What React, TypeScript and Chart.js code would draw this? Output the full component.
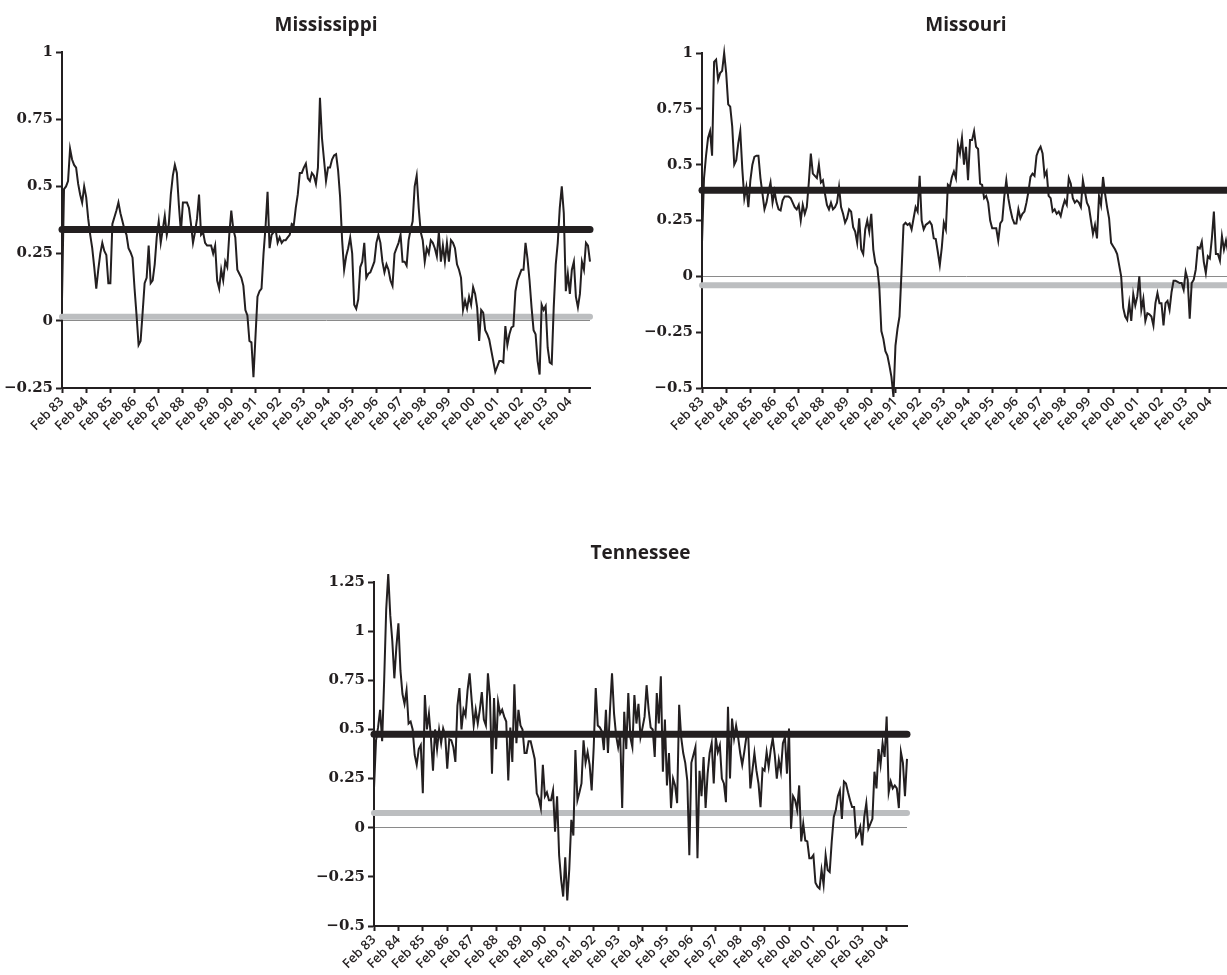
import React, { useEffect, useRef } from "react";
import { Chart, registerables } from "chart.js";

Chart.register(...registerables);

// ---------- DATA ----------
const yearLabels = [
  "Feb 83", "Feb 84", "Feb 85", "Feb 86", "Feb 87", "Feb 88", "Feb 89", "Feb 90",
  "Feb 91", "Feb 92", "Feb 93", "Feb 94", "Feb 95", "Feb 96", "Feb 97", "Feb 98",
  "Feb 99", "Feb 00", "Feb 01", "Feb 02", "Feb 03", "Feb 04",
];
// month index (0 = Feb 83) of each labelled tick
const yearTickIndex = [0, 12, 24, 36, 48, 60, 72, 84, 96, 108, 120, 132, 144, 156, 168, 180, 192, 204, 216, 228, 240, 252];

const mississippi = [
  0.08, 0.49, 0.50, 0.52, 0.64, 0.60, 0.58, 0.57, 0.51, 0.47,
  0.44, 0.50, 0.46, 0.38, 0.32, 0.27, 0.20, 0.12, 0.19, 0.25,
  0.29, 0.26, 0.245, 0.14, 0.14, 0.36, 0.385, 0.41, 0.44, 0.40,
  0.37, 0.34, 0.32, 0.27, 0.255, 0.235, 0.12, 0.02, -0.09, -0.075,
  0.03, 0.14, 0.16, 0.28, 0.14, 0.15, 0.21, 0.31, 0.37, 0.29,
  0.34, 0.39, 0.32, 0.36, 0.47, 0.54, 0.58, 0.55, 0.43, 0.33,
  0.44, 0.44, 0.44, 0.42, 0.36, 0.29, 0.33, 0.38, 0.47, 0.32,
  0.33, 0.29, 0.28, 0.28, 0.28, 0.25, 0.28, 0.15, 0.12, 0.19,
  0.15, 0.22, 0.20, 0.32, 0.41, 0.34, 0.31, 0.19, 0.175, 0.16,
  0.13, 0.04, 0.02, -0.075, -0.08, -0.21, -0.06, 0.09, 0.11, 0.12,
  0.25, 0.35, 0.48, 0.27, 0.32, 0.33, 0.34, 0.29, 0.31, 0.29,
  0.30, 0.30, 0.31, 0.32, 0.36, 0.355, 0.42, 0.47, 0.55, 0.55,
  0.57, 0.585, 0.53, 0.52, 0.55, 0.54, 0.51, 0.57, 0.83, 0.68,
  0.60, 0.52, 0.57, 0.57, 0.60, 0.615, 0.62, 0.56, 0.46, 0.30,
  0.19, 0.24, 0.27, 0.31, 0.25, 0.06, 0.045, 0.08, 0.20, 0.22,
  0.29, 0.16, 0.175, 0.18, 0.20, 0.22, 0.29, 0.32, 0.29, 0.22,
  0.18, 0.21, 0.19, 0.15, 0.13, 0.25, 0.27, 0.29, 0.32, 0.22,
  0.22, 0.205, 0.30, 0.34, 0.37, 0.50, 0.54, 0.42, 0.33, 0.30,
  0.22, 0.27, 0.25, 0.30, 0.29, 0.27, 0.24, 0.33, 0.22, 0.28,
  0.22, 0.29, 0.22, 0.30, 0.29, 0.27, 0.21, 0.19, 0.16, 0.04,
  0.075, 0.045, 0.09, 0.06, 0.125, 0.10, 0.05, -0.075, 0.04, 0.03,
  -0.035, -0.05, -0.07, -0.11, -0.15, -0.19, -0.17, -0.15, -0.15, -0.155,
  -0.02, -0.09, -0.05, -0.025, -0.02, 0.11, 0.15, 0.17, 0.19, 0.19,
  0.29, 0.23, 0.15, 0.05, -0.035, -0.05, -0.15, -0.20, 0.06, 0.04,
  0.055, -0.10, -0.155, -0.16, 0.05, 0.21, 0.29, 0.42, 0.50, 0.40,
  0.11, 0.175, 0.10, 0.19, 0.22, 0.09, 0.05, 0.10, 0.22, 0.19,
  0.29, 0.28, 0.22,
];

const missouri = [
  0.15, 0.44, 0.54, 0.62, 0.65, 0.54, 0.96, 0.97, 0.88, 0.91,
  0.92, 1.0, 0.91, 0.77, 0.76, 0.67, 0.50, 0.52, 0.595, 0.65,
  0.48, 0.35, 0.40, 0.31, 0.43, 0.50, 0.535, 0.54, 0.54, 0.44,
  0.37, 0.30, 0.33, 0.38, 0.42, 0.33, 0.38, 0.33, 0.30, 0.295,
  0.34, 0.357, 0.357, 0.357, 0.35, 0.33, 0.31, 0.30, 0.32, 0.25,
  0.32, 0.28, 0.31, 0.42, 0.55, 0.46, 0.45, 0.44, 0.50, 0.42,
  0.43, 0.37, 0.32, 0.30, 0.33, 0.30, 0.31, 0.33, 0.40, 0.31,
  0.28, 0.24, 0.26, 0.30, 0.29, 0.22, 0.20, 0.15, 0.26, 0.12,
  0.10, 0.21, 0.25, 0.20, 0.28, 0.12, 0.06, 0.04, -0.05, -0.245,
  -0.28, -0.335, -0.355, -0.40, -0.45, -0.54, -0.31, -0.235, -0.18, 0.02,
  0.23, 0.24, 0.23, 0.237, 0.21, 0.26, 0.31, 0.29, 0.45, 0.25,
  0.21, 0.23, 0.237, 0.245, 0.23, 0.17, 0.167, 0.11, 0.05, 0.13,
  0.24, 0.21, 0.41, 0.40, 0.445, 0.47, 0.44, 0.59, 0.55, 0.62,
  0.50, 0.58, 0.43, 0.61, 0.61, 0.65, 0.58, 0.57, 0.415, 0.41,
  0.35, 0.36, 0.33, 0.25, 0.215, 0.215, 0.215, 0.16, 0.237, 0.25,
  0.357, 0.43, 0.35, 0.30, 0.26, 0.237, 0.237, 0.30, 0.26, 0.28,
  0.29, 0.33, 0.38, 0.445, 0.46, 0.45, 0.54, 0.565, 0.58, 0.55,
  0.45, 0.47, 0.36, 0.35, 0.29, 0.30, 0.28, 0.29, 0.27, 0.31,
  0.34, 0.32, 0.44, 0.415, 0.35, 0.33, 0.34, 0.33, 0.31, 0.43,
  0.38, 0.33, 0.31, 0.25, 0.19, 0.23, 0.17, 0.36, 0.32, 0.445,
  0.37, 0.31, 0.26, 0.15, 0.135, 0.12, 0.10, 0.05, 0.00, -0.14,
  -0.18, -0.195, -0.12, -0.20, -0.08, -0.13, -0.09, 0.0, -0.15, -0.10,
  -0.20, -0.165, -0.17, -0.18, -0.22, -0.12, -0.075, -0.12, -0.12, -0.22,
  -0.12, -0.11, -0.15, -0.07, -0.02, -0.02, -0.025, -0.03, -0.03, -0.06,
  0.02, -0.015, -0.19, -0.03, -0.015, 0.03, 0.13, 0.125, 0.155, 0.065,
  0.015, 0.09, 0.08, 0.17, 0.29, 0.10, 0.10, 0.07, 0.18, 0.12,
  0.16, 0.11, 0.15,
];

const tennessee = [
  0.2, 0.445, 0.51, 0.60, 0.44, 0.75, 1.11, 1.29, 1.08, 0.95,
  0.76, 0.92, 1.04, 0.80, 0.68, 0.63, 0.70, 0.53, 0.54, 0.50,
  0.37, 0.32, 0.40, 0.42, 0.175, 0.675, 0.50, 0.58, 0.455, 0.29,
  0.50, 0.40, 0.50, 0.43, 0.505, 0.47, 0.30, 0.45, 0.445, 0.41,
  0.335, 0.62, 0.71, 0.50, 0.60, 0.57, 0.70, 0.785, 0.65, 0.52,
  0.60, 0.53, 0.60, 0.69, 0.55, 0.52, 0.785, 0.665, 0.275, 0.66,
  0.40, 0.64, 0.58, 0.60, 0.565, 0.54, 0.24, 0.51, 0.335, 0.73,
  0.43, 0.60, 0.52, 0.50, 0.38, 0.38, 0.44, 0.44, 0.395, 0.35,
  0.175, 0.15, 0.10, 0.32, 0.16, 0.18, 0.14, 0.14, 0.19, -0.02,
  0.16, -0.14, -0.265, -0.35, -0.15, -0.37, -0.21, 0.04, -0.04, 0.395,
  0.14, 0.18, 0.225, 0.445, 0.33, 0.385, 0.32, 0.19, 0.41, 0.71,
  0.52, 0.51, 0.49, 0.395, 0.60, 0.38, 0.60, 0.785, 0.58, 0.47,
  0.41, 0.48, 0.10, 0.59, 0.40, 0.685, 0.46, 0.41, 0.675, 0.53,
  0.63, 0.46,
  0.51, 0.565, 0.725, 0.60, 0.51, 0.50, 0.36, 0.685, 0.53, 0.77,
  0.285, 0.55, 0.215, 0.38, 0.10, 0.25, 0.215, 0.125, 0.625, 0.46,
  0.38, 0.33, 0.24, -0.14, 0.33, 0.37, 0.41, -0.155, 0.29, 0.16,
  0.36, 0.10, 0.275, 0.38, 0.43, 0.225, 0.46, 0.385, 0.42, 0.25,
  0.225, 0.13, 0.615, 0.25, 0.555, 0.455, 0.52, 0.46, 0.38, 0.32,
  0.385, 0.46, 0.46, 0.20, 0.29, 0.38, 0.29, 0.225, 0.105, 0.30,
  0.29, 0.385, 0.31, 0.395, 0.455, 0.37, 0.25, 0.345, 0.285, 0.43,
  0.46, 0.275, 0.505, -0.005, 0.16, 0.14, 0.09, 0.215, -0.07, 0.02,
  -0.065, -0.07, -0.155, -0.155, -0.14, -0.28, -0.30, -0.31, -0.215, -0.29,
  -0.14, -0.215, -0.225, -0.07, 0.055, 0.09, 0.16, 0.19, 0.045, 0.235,
  0.225, 0.18, 0.14, 0.105, 0.105, -0.045, -0.03, 0.005, -0.09, 0.055,
  0.125, -0.005, 0.02, 0.045, 0.285, 0.20, 0.40, 0.32, 0.43, 0.36,
  0.565, 0.18, 0.235, 0.20, 0.215, 0.20, 0.10, 0.385, 0.33, 0.16,
  0.35,
];

// reference levels (thick black and thick gray lines)
const mississippiBlack = 0.34;
const mississippiGray = 0.015;
const missouriBlack = 0.385;
const missouriGray = -0.04;
const tennesseeBlack = 0.475;
const tennesseeGray = 0.075;

// y tick values
const mississippiTicks = [-0.25, 0, 0.25, 0.5, 0.75, 1];
const missouriTicks = [-0.5, -0.25, 0, 0.25, 0.5, 0.75, 1];
const tennesseeTicks = [-0.5, -0.25, 0, 0.25, 0.5, 0.75, 1, 1.25];

// ---------- STYLE ----------
const INK = "#231f20";
const GRAY = "#bcbec0";

function fmt(v: number): string {
  if (Math.abs(v) < 1e-9) return "0";
  const s = String(Math.round(Math.abs(v) * 100) / 100);
  return v < 0 ? "\u2212" + s : s;
}

type PanelSpec = {
  title: string;
  values: number[];
  black: number;
  gray: number;
  yTicks: number[];
  left: number;
  top: number;
  width: number;
  height: number;
  titleTop: number;
  titleBottom: number;
};

const Y_AXIS_W = 62;
const RIGHT_PAD = 10;

function buildConfig(p: PanelSpec): any {
  const last = p.values.length - 1;
  const pts = p.values.map((v, i) => ({ x: i, y: v }));
  return {
    type: "line",
    data: {
      datasets: [
        {
          data: pts,
          borderColor: INK,
          borderWidth: 2,
          pointRadius: 0,
          tension: 0,
          clip: false,
          order: 1,
        },
        {
          data: [{ x: 0, y: p.black }, { x: last, y: p.black }],
          borderColor: INK,
          borderWidth: 7,
          borderCapStyle: "round",
          pointRadius: 0,
          clip: false,
          order: 2,
        },
        {
          data: [{ x: 0, y: p.gray }, { x: last, y: p.gray }],
          borderColor: GRAY,
          borderWidth: 6,
          borderCapStyle: "round",
          pointRadius: 0,
          clip: false,
          order: 3,
        },
      ],
    },
    options: {
      animation: false,
      responsive: false,
      devicePixelRatio: 1,
      events: [],
      layout: { padding: { top: 0, left: 0, right: RIGHT_PAD, bottom: 0 } },
      plugins: {
        legend: { display: false },
        tooltip: { enabled: false },
        title: {
          display: true,
          fullSize: false,
          text: p.title,
          color: INK,
          font: { family: "'Open Sans', sans-serif", weight: "bold", size: 19, lineHeight: 1.2 },
          padding: { top: p.titleTop, bottom: p.titleBottom },
        },
      },
      scales: {
        x: {
          type: "linear",
          min: 0,
          max: last,
          afterBuildTicks: (s: any) => {
            s.ticks = yearTickIndex.map((v) => ({ value: v }));
          },
          afterFit: (s: any) => {
            s.height = 60;
          },
          ticks: {
            autoSkip: false,
            maxRotation: 45,
            minRotation: 45,
            padding: 1,
            color: INK,
            font: { family: "'Open Sans', sans-serif", weight: "600", size: 13 },
            callback: (v: number) => yearLabels[yearTickIndex.indexOf(v)] ?? "",
          },
          grid: {
            drawOnChartArea: false,
            tickLength: 5,
            tickWidth: 2,
            tickColor: INK,
          },
          border: { color: INK, width: 2 },
        },
        y: {
          min: p.yTicks[0],
          max: p.yTicks[p.yTicks.length - 1],
          afterBuildTicks: (s: any) => {
            s.ticks = p.yTicks.map((v) => ({ value: v }));
          },
          afterFit: (s: any) => {
            s.width = Y_AXIS_W;
          },
          ticks: {
            padding: 3,
            color: INK,
            font: { family: "'DejaVu Serif', serif", weight: "bold", size: 15 },
            callback: (v: number) => fmt(v),
          },
          grid: {
            color: (ctx: any) => (ctx.tick && Math.abs(ctx.tick.value) < 1e-9 ? "#8a8a8a" : "rgba(0,0,0,0)"),
            lineWidth: 1,
            tickLength: 6,
            tickWidth: 2,
            tickColor: INK,
          },
          border: { color: INK, width: 2 },
        },
      },
    },
  };
}

const panels: PanelSpec[] = [
  {
    title: "Mississippi",
    values: mississippi,
    black: mississippiBlack,
    gray: mississippiGray,
    yTicks: mississippiTicks,
    left: 0,
    top: 0,
    width: 600,
    height: 448,
    titleTop: 14,
    titleBottom: 15.2,
  },
  {
    title: "Missouri",
    values: missouri,
    black: missouriBlack,
    gray: missouriGray,
    yTicks: missouriTicks,
    left: 640,
    top: 0,
    width: 600,
    height: 448,
    titleTop: 14,
    titleBottom: 16.2,
  },
  {
    title: "Tennessee",
    values: tennessee,
    black: tennesseeBlack,
    gray: tennesseeGray,
    yTicks: tennesseeTicks,
    left: 312,
    top: 520,
    width: 605,
    height: 466,
    titleTop: 22.2,
    titleBottom: 17,
  },
];

function Panel({ spec }: { spec: PanelSpec }) {
  const ref = useRef<HTMLCanvasElement | null>(null);
  useEffect(() => {
    if (!ref.current) return;
    const chart = new Chart(ref.current, buildConfig(spec));
    return () => chart.destroy();
  }, [spec]);
  return (
    <canvas
      ref={ref}
      width={spec.width}
      height={spec.height}
      style={{
        position: "absolute",
        left: spec.left,
        top: spec.top,
        width: spec.width,
        height: spec.height,
        display: "block",
      }}
    />
  );
}

export default function App() {
  return (
    <div
      style={{
        position: "absolute",
        left: 0,
        top: 0,
        width: 1227,
        height: 975,
        overflow: "hidden",
        background: "#ffffff",
      }}
    >
      {panels.map((p) => (
        <Panel key={p.title} spec={p} />
      ))}
    </div>
  );
}
